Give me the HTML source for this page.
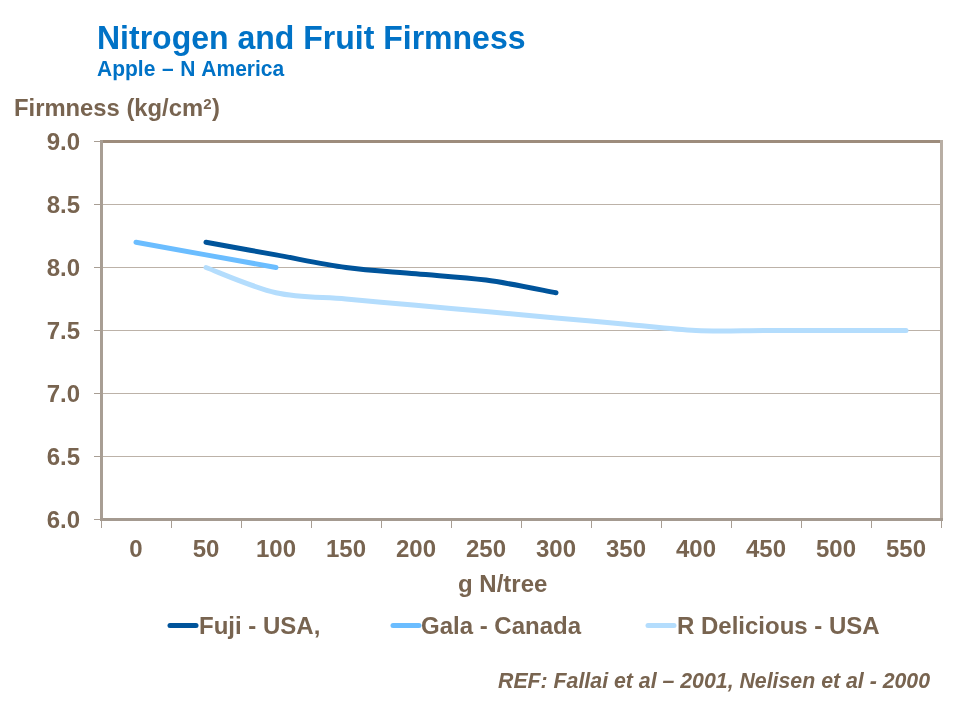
<!DOCTYPE html>
<html><head><meta charset="utf-8">
<style>
html,body{margin:0;padding:0;background:#fff;}
body{width:960px;height:720px;position:relative;overflow:hidden;font-family:"Liberation Sans",sans-serif;font-weight:bold;}
.t{position:absolute;white-space:nowrap;line-height:1;will-change:transform;}
#title{left:97px;top:21.5px;font-size:32px;color:#0072C6;transform:scaleY(1.055);transform-origin:0 27px;}
#sub{left:96.5px;top:57.5px;font-size:21px;word-spacing:0.8px;color:#0072C6;transform:scaleY(1.04);transform-origin:0 18px;}
#ylab{left:13.5px;top:95.5px;font-size:23.8px;color:#786450;}
#ylab sup{font-size:15px;vertical-align:0;position:relative;top:-7.5px;margin-left:0px;margin-right:0.5px;}
.yl{font-size:24px;color:#786450;text-align:right;width:60px;left:20px;}
.xl{font-size:24px;color:#786450;text-align:center;width:70px;}
#xtitle{left:458px;top:572px;font-size:24px;color:#786450;}
.lg{font-size:24px;color:#786450;top:614px;}
#ref{left:498px;top:671px;font-size:21.3px;font-style:italic;color:#786450;}
svg{position:absolute;left:0;top:0;}
</style></head><body>
<svg width="960" height="720" viewBox="0 0 960 720">
<g stroke="#BCB2A8" stroke-width="1">
<line x1="103" y1="204.5" x2="940" y2="204.5"/>
<line x1="103" y1="267.5" x2="940" y2="267.5"/>
<line x1="103" y1="330.5" x2="940" y2="330.5"/>
<line x1="103" y1="393.5" x2="940" y2="393.5"/>
<line x1="103" y1="456.5" x2="940" y2="456.5"/>
</g>
<g stroke="#A89E94" stroke-width="1">
<line x1="94" y1="141.5" x2="101" y2="141.5"/>
<line x1="94" y1="204.5" x2="101" y2="204.5"/>
<line x1="94" y1="267.5" x2="101" y2="267.5"/>
<line x1="94" y1="330.5" x2="101" y2="330.5"/>
<line x1="94" y1="393.5" x2="101" y2="393.5"/>
<line x1="94" y1="456.5" x2="101" y2="456.5"/>
<line x1="94" y1="519.5" x2="101" y2="519.5"/>
<line x1="101.5" y1="520" x2="101.5" y2="528"/>
<line x1="171.5" y1="520" x2="171.5" y2="528"/>
<line x1="241.5" y1="520" x2="241.5" y2="528"/>
<line x1="311.5" y1="520" x2="311.5" y2="528"/>
<line x1="381.5" y1="520" x2="381.5" y2="528"/>
<line x1="451.5" y1="520" x2="451.5" y2="528"/>
<line x1="521.5" y1="520" x2="521.5" y2="528"/>
<line x1="591.5" y1="520" x2="591.5" y2="528"/>
<line x1="661.5" y1="520" x2="661.5" y2="528"/>
<line x1="731.5" y1="520" x2="731.5" y2="528"/>
<line x1="801.5" y1="520" x2="801.5" y2="528"/>
<line x1="871.5" y1="520" x2="871.5" y2="528"/>
<line x1="941.5" y1="520" x2="941.5" y2="528"/>
</g>
<line x1="101.5" y1="141.5" x2="941.5" y2="141.5" stroke="#9D8C7C" stroke-width="3" stroke-linecap="square"/>
<line x1="941.5" y1="141.5" x2="941.5" y2="519.5" stroke="#B8AEA4" stroke-width="3" stroke-linecap="square"/>
<line x1="101.5" y1="141.5" x2="101.5" y2="519.5" stroke="#A89E94" stroke-width="3" stroke-linecap="square"/>
<line x1="101.5" y1="519.5" x2="941.5" y2="519.5" stroke="#A49A90" stroke-width="3" stroke-linecap="square"/>
<g fill="none" stroke-width="5" stroke-linecap="round" stroke-linejoin="round">
<path stroke="#B4DDFD" d="M206.00,267.50 C217.67,271.70 252.67,287.45 276.00,292.70 C299.33,297.95 322.67,296.90 346.00,299.00 C369.33,301.10 392.67,303.20 416.00,305.30 C439.33,307.40 462.67,309.50 486.00,311.60 C509.33,313.70 532.67,315.80 556.00,317.90 C579.33,320.00 602.67,322.10 626.00,324.20 C649.33,326.30 672.67,329.45 696.00,330.50 C719.33,331.55 742.67,330.50 766.00,330.50 C789.33,330.50 812.67,330.50 836.00,330.50 C859.33,330.50 894.33,330.50 906.00,330.50"/>
<path stroke="#6BBDFF" d="M136.00,242.30 C159.33,246.50 252.67,263.30 276.00,267.50"/>
<path stroke="#00549B" d="M206.00,242.30 C217.67,244.40 252.67,250.70 276.00,254.90 C299.33,259.10 322.67,264.35 346.00,267.50 C369.33,270.65 392.67,271.70 416.00,273.80 C439.33,275.90 462.67,276.95 486.00,280.10 C509.33,283.25 544.33,290.60 556.00,292.70"/>
</g>
<g stroke-width="5" stroke-linecap="round">
<line x1="170" y1="625.5" x2="196" y2="625.5" stroke="#00549B"/>
<line x1="393" y1="625.5" x2="419" y2="625.5" stroke="#6BBDFF"/>
<line x1="648" y1="625.5" x2="674" y2="625.5" stroke="#B4DDFD"/>
</g>
</svg>
<div class="t" id="title">Nitrogen and Fruit Firmness</div>
<div class="t" id="sub">Apple – N America</div>
<div class="t" id="ylab">Firmness (kg/cm<sup>2</sup>)</div>
<div class="t yl" style="top:130px">9.0</div>
<div class="t yl" style="top:193px">8.5</div>
<div class="t yl" style="top:256px">8.0</div>
<div class="t yl" style="top:319px">7.5</div>
<div class="t yl" style="top:382px">7.0</div>
<div class="t yl" style="top:445px">6.5</div>
<div class="t yl" style="top:508px">6.0</div>
<div class="t xl" style="left:101px;top:537px">0</div>
<div class="t xl" style="left:171px;top:537px">50</div>
<div class="t xl" style="left:241px;top:537px">100</div>
<div class="t xl" style="left:311px;top:537px">150</div>
<div class="t xl" style="left:381px;top:537px">200</div>
<div class="t xl" style="left:451px;top:537px">250</div>
<div class="t xl" style="left:521px;top:537px">300</div>
<div class="t xl" style="left:591px;top:537px">350</div>
<div class="t xl" style="left:661px;top:537px">400</div>
<div class="t xl" style="left:731px;top:537px">450</div>
<div class="t xl" style="left:801px;top:537px">500</div>
<div class="t xl" style="left:871px;top:537px">550</div>
<div class="t" id="xtitle">g N/tree</div>
<div class="t lg" style="left:199px">Fuji - USA,</div>
<div class="t lg" style="left:421px">Gala - Canada</div>
<div class="t lg" style="left:676.5px">R Delicious - USA</div>
<div class="t" id="ref">REF: Fallai et al – 2001, Nelisen et al - 2000</div>
</body></html>
